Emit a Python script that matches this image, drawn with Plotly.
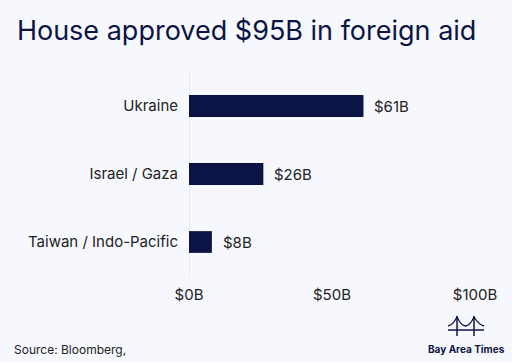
import plotly.graph_objects as go

categories = ["Ukraine", "Israel / Gaza", "Taiwan / Indo-Pacific"]
values = [61, 26, 8]
value_labels = ["$61B", "$26B", "$8B"]
tick_vals = [0, 50, 100]
tick_text = ["$0B", "$50B", "$100B"]

BG = "#f7f8fd"
NAVY = "#0c1445"
TXT = "#222222"
FONT = "Inter"

fig = go.Figure(go.Bar(
    x=values, y=categories, orientation="h",
    marker=dict(color=NAVY, line=dict(width=0)),
    width=0.32, hoverinfo="skip",
))

for v, c, t in zip(values, categories, value_labels):
    fig.add_annotation(x=v, y=c, text=t, xanchor="left", yanchor="middle", xshift=9,
                       showarrow=False, font=dict(family=FONT, size=15, color=TXT))

fig.update_layout(
    width=512, height=362,
    paper_bgcolor=BG, plot_bgcolor=BG,
    margin=dict(l=189, r=37, t=72, b=86),
    showlegend=False,
    font=dict(family=FONT, color=TXT),
    title=dict(text="House approved $95B in foreign aid", x=0.033, xanchor="left",
               y=0.915, yanchor="middle",
               font=dict(family=FONT, size=27, color=NAVY)),
    xaxis=dict(range=[0, 100], tickvals=tick_vals, ticktext=tick_text,
               showgrid=False, zeroline=False, showline=False,
               tickfont=dict(family=FONT, size=15, color=TXT), ticks="",
               ticklabelstandoff=8),
    yaxis=dict(autorange="reversed", showgrid=False, zeroline=False, showline=False,
               tickfont=dict(family=FONT, size=15, color=TXT), ticks="",
               ticklabelstandoff=10),
)

# light vertical baseline at x=0
fig.add_shape(type="line", xref="x", yref="paper", x0=0, x1=0, y0=0, y1=1,
              line=dict(color="#e4e6ef", width=1.5), layer="below")

pw, ph, l, b = 286, 204, 189, 86
def px(xp):
    return (xp - l) / pw
def py(yp):
    return (362 - b - yp) / ph

# source
fig.add_annotation(text="Source: Bloomberg,", xref="paper", yref="paper",
                   x=px(12), y=py(349), xanchor="left", yanchor="middle", showarrow=False,
                   font=dict(family=FONT, size=12, color=TXT))
# logo text
fig.add_annotation(text="<b>Bay Area Times</b>", xref="paper", yref="paper",
                   x=px(466), y=py(349), xanchor="center", yanchor="middle", showarrow=False,
                   font=dict(family=FONT, size=10, color=NAVY))

# bridge icon
fig.add_shape(type="line", xref="paper", yref="paper", x0=px(448), x1=px(484), y0=py(330), y1=py(330),
              line=dict(color=NAVY, width=1.5))
for tx in (457, 474):
    fig.add_shape(type="line", xref="paper", yref="paper", x0=px(tx), x1=px(tx), y0=py(316), y1=py(336),
                  line=dict(color=NAVY, width=1.5))
path = (f"M {px(448)},{py(326)} Q {px(453)},{py(325)} {px(457)},{py(317)} "
        f"Q {px(465.5)},{py(335)} {px(474)},{py(317)} Q {px(479)},{py(325)} {px(484)},{py(326)}")
fig.add_shape(type="path", xref="paper", yref="paper", path=path,
              line=dict(color=NAVY, width=1.3))

fig.write_html("out.html", config={"displayModeBar": False},
               post_script="document.body.style.margin='0';")
